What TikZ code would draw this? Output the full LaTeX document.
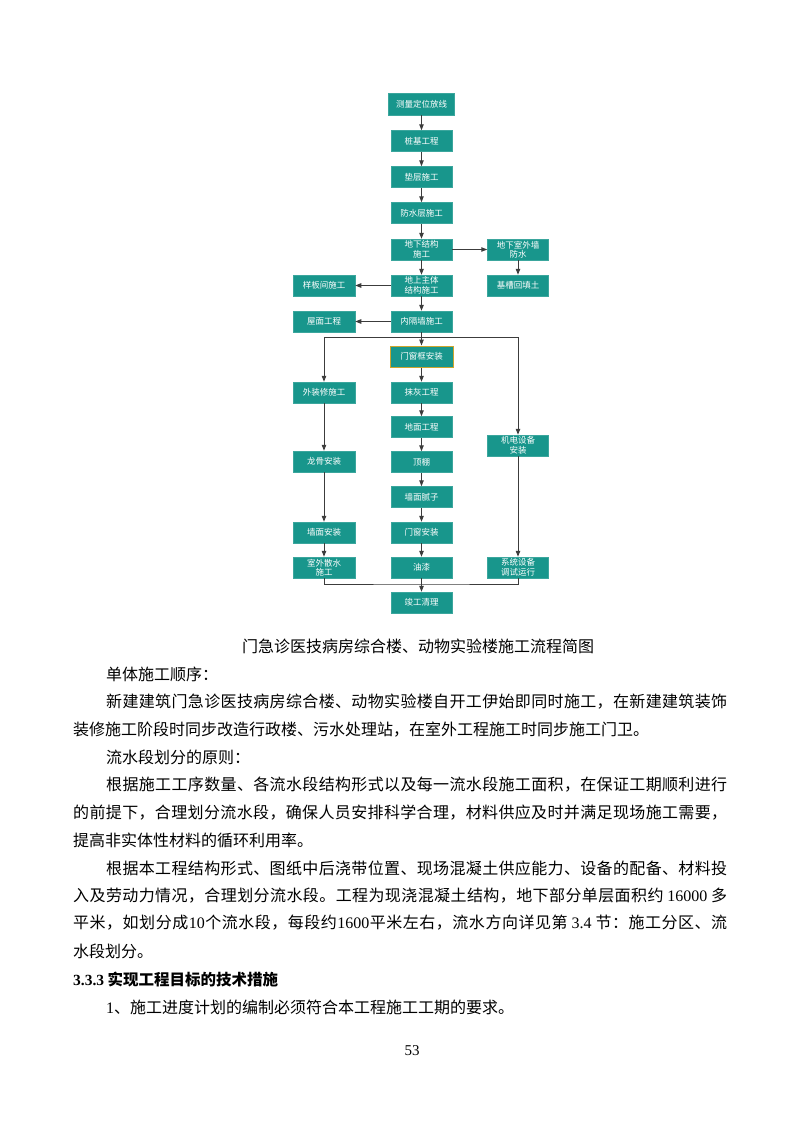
\documentclass[tikz,border=0pt]{standalone}
\usepackage{fontspec}
\setmainfont{Noto Sans CJK SC}
\newfontfamily\tnr{Liberation Serif}
\usetikzlibrary{arrows.meta}
\definecolor{tealbox}{RGB}{24,150,140}
\definecolor{goldline}{RGB}{205,165,45}
\definecolor{lnc}{RGB}{60,60,60}
\makeatletter
\def\spreadend{\spreadend}
\def\spreadline#1#2{\hbox to #1{\spr@a#2\spreadend}}
\def\spr@a#1{#1\spr@b}
\def\spr@b#1{\ifx\spreadend#1\else\hskip0pt plus 1fil\relax#1\expandafter\spr@b\fi}
\makeatother
\def\dA{{\tnr 16000}}
\def\dB{{\tnr 10}}
\def\dC{{\tnr 1600}}
\def\dD{{\tnr 3.4}}
\def\wsp{\hskip3pt\relax}
\begin{document}
\begin{tikzpicture}[x=1pt,y=-1pt,
  fbox/.style={fill=tealbox, draw=tealbox!85!white, line width=0.5pt,
    minimum width=61pt, minimum height=21pt, inner sep=0pt, text=white,
    font=\fontsize{8.5}{9.5}\selectfont, align=center},
  conn/.style={draw=lnc, line width=1pt},
  arr/.style={conn, -{Triangle[length=6pt,width=4.5pt]}},
  body/.style={anchor=west, inner sep=0pt, font=\fontsize{16}{16}\selectfont},
]
\useasboundingbox[fill=white] (0,0) rectangle (800,1132);

% main column
\node[fbox, minimum width=66pt, minimum height=22pt] (m1) at (421.5,104) {测量定位放线};
\node[fbox] (m2) at (421.5,141) {桩基工程};
\node[fbox] (m3) at (421.5,177) {垫层施工};
\node[fbox] (m4) at (421.5,213) {防水层施工};
\node[fbox] (m5) at (421.5,249.5) {地下结构\\施工};
\node[fbox] (m6) at (421.5,285.5) {地上主体\\结构施工};
\node[fbox] (m7) at (421.5,321.5) {内隔墙施工};
\node[fbox, minimum width=63pt, draw=goldline, line width=1pt] (m8) at (421.5,356.5) {门窗框安装};
\node[fbox] (m9) at (421.5,392.5) {抹灰工程};
\node[fbox] (m10) at (421.5,427) {地面工程};
\node[fbox] (m11) at (421.5,462) {顶棚};
\node[fbox] (m12) at (421.5,497) {墙面腻子};
\node[fbox] (m13) at (421.5,532.5) {门窗安装};
\node[fbox] (m14) at (421.5,567.5) {油漆};
\node[fbox] (m15) at (421.5,602.5) {竣工清理};
% right column
\node[fbox] (r1) at (518,249.5) {地下室外墙\\防水};
\node[fbox] (r2) at (518,285.5) {基槽回填土};
\node[fbox] (r3) at (518,445.5) {机电设备\\安装};
\node[fbox] (r4) at (518,567.5) {系统设备\\调试运行};
% left column
\node[fbox, minimum width=62pt] (l1) at (324,285.5) {样板间施工};
\node[fbox, minimum width=62pt] (l2) at (324,321.5) {屋面工程};
\node[fbox, minimum width=62pt] (l3) at (324,392.5) {外装修施工};
\node[fbox, minimum width=62pt] (l4) at (324,461.5) {龙骨安装};
\node[fbox, minimum width=62pt] (l5) at (324,532.5) {墙面安装};
\node[fbox, minimum width=62pt] (l6) at (324,567.5) {室外散水\\施工};

% connectors
\draw[arr] (m1) -- (m2);
\draw[arr] (m2) -- (m3);
\draw[arr] (m3) -- (m4);
\draw[arr] (m4) -- (m5);
\draw[arr] (m5) -- (r1);
\draw[arr] (r1) -- (r2);
\draw[arr] (m5) -- (m6);
\draw[arr] (m6) -- (l1);
\draw[arr] (m6) -- (m7);
\draw[arr] (m7) -- (l2);
\draw[arr] (m7) -- (m8);
\coordinate (br) at (421.5,337);
\draw[conn] (l3.north |- br) -- (r3.north |- br);
\draw[arr] (l3.north |- br) -- (l3.north);
\draw[arr] (r3.north |- br) -- (r3.north);
\draw[arr] (m8) -- (m9);
\draw[arr] (m9) -- (m10);
\draw[arr] (m10) -- (m11);
\draw[arr] (m11) -- (m12);
\draw[arr] (m12) -- (m13);
\draw[arr] (m13) -- (m14);
\draw[arr] (m14) -- (m15);
\draw[arr] (l3) -- (l4);
\draw[arr] (l4) -- (l5);
\draw[arr] (l5) -- (l6);
\draw[arr] (r3) -- (r4);
\coordinate (jn) at (421.5,584);
\draw[conn] (l6.south) |- (jn) -| (r4.south);

% text
\node[body, anchor=center] (cap) at (418,646) {门急诊医技病房综合楼、动物实验楼施工流程简图};
\node[body] (t1) at (106,674) {单体施工顺序：};
\node[body] (t2) at (106,702) {\spreadline{621pt}{新建建筑门急诊医技病房综合楼、动物实验楼自开工伊始即同时施工，在新建建筑装饰}};
\node[body] (t3) at (73,729.5) {装修施工阶段时同步改造行政楼、污水处理站，在室外工程施工时同步施工门卫。};
\node[body] (t4) at (106,757) {流水段划分的原则：};
\node[body] (t5) at (106,785) {\spreadline{621pt}{根据施工工序数量、各流水段结构形式以及每一流水段施工面积，在保证工期顺利进行}};
\node[body] (t6) at (73,812.5) {\spreadline{654pt}{的前提下，合理划分流水段，确保人员安排科学合理，材料供应及时并满足现场施工需要，}};
\node[body] (t7) at (73,840) {提高非实体性材料的循环利用率。};
\node[body] (t8) at (106,868) {\spreadline{621pt}{根据本工程结构形式、图纸中后浇带位置、现场混凝土供应能力、设备的配备、材料投}};
\node[body] (t9) at (73,895.5) {\spreadline{654pt}{入及劳动力情况，合理划分流水段。工程为现浇混凝土结构，地下部分单层面积约\wsp \dA\wsp 多}};
\node[body] (t10) at (73,923) {\spreadline{654pt}{平米，如划分成\dB 个流水段，每段约\dC 平米左右，流水方向详见第\wsp \dD\wsp 节：施工分区、流}};
\node[body] (t11) at (73,951) {水段划分。};
\node[body, font=\fontsize{15.5}{16}\selectfont\bfseries] (t12) at (73,979) {{\tnr 3.3.3} 实现工程目标的技术措施};
\node[body] (t13) at (106,1007) {{\tnr 1}、施工进度计划的编制必须符合本工程施工工期的要求。};
\node[body, anchor=center, font=\fontsize{15}{15}\tnr] (pg) at (412,1051) {53};
\end{tikzpicture}
\end{document}
